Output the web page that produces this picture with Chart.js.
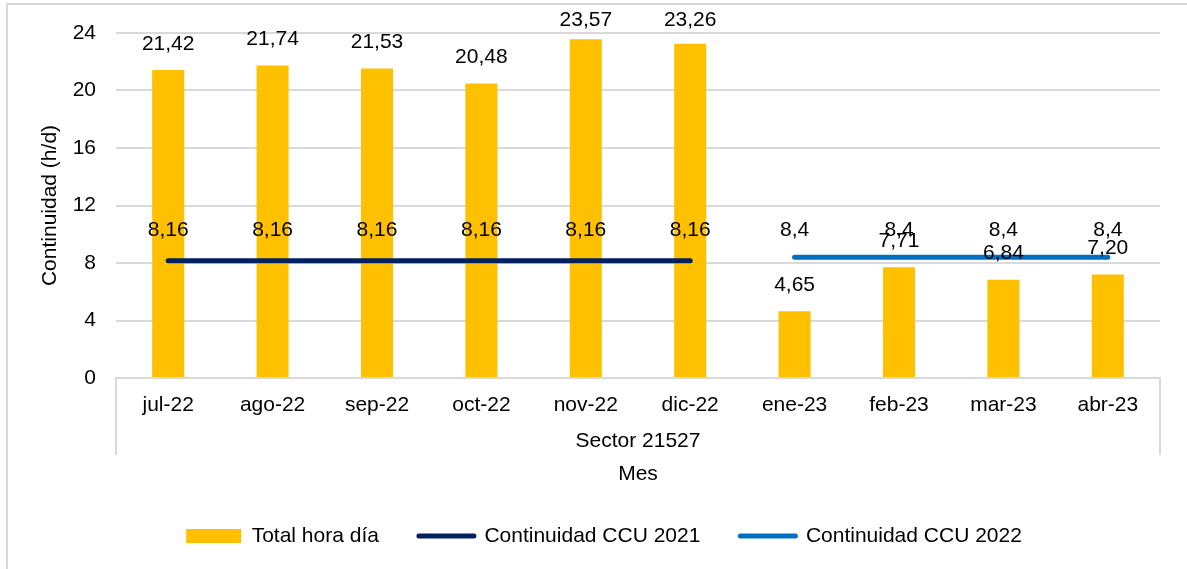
<!DOCTYPE html>
<html><head><meta charset="utf-8">
<script src="https://cdn.jsdelivr.net/npm/chart.js@4/dist/chart.umd.min.js"></script>
<style>
html,body{margin:0;padding:0;background:#fff;}
#wrap{position:relative;width:1187px;height:569px;overflow:hidden;}
#frame{position:absolute;left:6px;top:3px;width:1200px;height:600px;border-top:2px solid #d9d9d9;border-left:2px solid #d9d9d9;pointer-events:none;}
</style></head><body>
<div id="wrap"><canvas id="c"></canvas><div id="frame"></div></div>
<script>
const categories = ['jul-22','ago-22','sep-22','oct-22','nov-22','dic-22','ene-23','feb-23','mar-23','abr-23'];
const totalHoraDia = [21.42, 21.74, 21.53, 20.48, 23.57, 23.26, 4.65, 7.71, 6.84, 7.20];
const ccu2021 = [8.16, 8.16, 8.16, 8.16, 8.16, 8.16, null, null, null, null];
const ccu2022 = [null, null, null, null, null, null, 8.4, 8.4, 8.4, 8.4];
const yTicks = [0, 4, 8, 12, 16, 20, 24];
const groupLabel = 'Sector 21527';
const xTitle = 'Mes';
const yTitle = 'Continuidad (h/d)';

const FONT = '"Liberation Sans", Arial, sans-serif';
const FS = 21;

const labelPlugin = {
  id: 'vlabels',
  afterDatasetsDraw(chart) {
    const ctx = chart.ctx;
    ctx.save();
    ctx.font = FS + 'px ' + FONT;
    ctx.fillStyle = '#000';
    ctx.textAlign = 'center';
    ctx.textBaseline = 'middle';
    chart.data.datasets.forEach((ds, i) => {
      const meta = chart.getDatasetMeta(i);
      meta.data.forEach((el, j) => {
        const v = ds.data[j];
        if (v == null) return;
        const txt = ds.type === 'bar' ? v.toFixed(2).replace('.', ',') : String(v).replace('.', ',');
        ctx.fillText(txt, el.x, Math.max(el.y - ds.labelOffset, 20));
      });
    });
    ctx.restore();
  }
};

const sepPlugin = {
  id: 'seps',
  afterLayout(chart) {
    if (chart.legend) chart.legend.left += 48;
  },
  afterDraw(chart) {
    const ctx = chart.ctx, xs = chart.scales.x, b = chart.chartArea.bottom;
    ctx.save();
    ctx.strokeStyle = '#d9d9d9';
    ctx.lineWidth = 2;
    [xs.left, xs.right].forEach(x => {
      ctx.beginPath(); ctx.moveTo(x, b); ctx.lineTo(x, b + 77); ctx.stroke();
    });
    ctx.restore();
  }
};

new Chart(document.getElementById('c'), {
  data: {
    labels: categories,
    datasets: [
      { type: 'bar', label: 'Total hora día', data: totalHoraDia, backgroundColor: '#FFC000',
        borderWidth: 0, barPercentage: 0.307, categoryPercentage: 1, order: 1, labelOffset: 26 },
      { type: 'line', label: 'Continuidad CCU 2021', data: ccu2021, borderColor: '#002060', backgroundColor: '#002060',
        borderWidth: 5, borderCapStyle: 'round', pointRadius: 0, spanGaps: false, order: 0, labelOffset: 30 },
      { type: 'line', label: 'Continuidad CCU 2022', data: ccu2022, borderColor: '#0070C0', backgroundColor: '#0070C0',
        borderWidth: 5, borderCapStyle: 'round', pointRadius: 0, spanGaps: false, order: 0, labelOffset: 27 }
    ]
  },
  options: {
    responsive: true,
    maintainAspectRatio: false,
    animation: false,
    layout: { padding: { left: 0, right: 27, top: 33, bottom: 12.5 } },
    plugins: {
      tooltip: { enabled: false },
      legend: {
        position: 'bottom',
        labels: {
          font: { family: FONT, size: FS },
          color: '#000',
          usePointStyle: true,
          pointStyleWidth: 55,
          boxHeight: 14,
          padding: 40,
          sort: (a, b) => a.datasetIndex - b.datasetIndex,
          generateLabels(chart) {
            const items = Chart.defaults.plugins.legend.labels.generateLabels(chart);
            items.forEach(it => {
              const ds = chart.data.datasets[it.datasetIndex];
              if (ds.type === 'bar') { it.pointStyle = 'rect'; it.lineWidth = 0; it.fillStyle = ds.backgroundColor; }
              else { it.pointStyle = 'line'; it.lineWidth = 5; it.strokeStyle = ds.borderColor; it.lineCap = 'round'; }
            });
            return items;
          }
        }
      }
    },
    scales: {
      x: {
        grid: { display: false, drawTicks: false },
        border: { display: true, color: '#d9d9d9', width: 2 },
        ticks: { font: { family: FONT, size: FS }, color: '#000', padding: 15, maxRotation: 0 },
        title: { display: true, text: [groupLabel, xTitle], font: { family: FONT, size: FS, lineHeight: 33 / FS },
                 color: '#000', padding: { top: 0, bottom: -5 } },
        afterFit(axis) { axis.height = 107.5; }
      },
      y: {
        min: 0, max: 24,
        afterBuildTicks(axis) { axis.ticks = yTicks.map(v => ({ value: v })); },
        grid: { color: '#d9d9d9', lineWidth: 2, drawTicks: false },
        border: { display: false },
        ticks: { font: { family: FONT, size: FS }, color: '#000', padding: 20 },
        title: { display: true, text: yTitle, font: { family: FONT, size: FS }, color: '#000',
                 padding: { top: 38, bottom: 0 } },
        afterFit(axis) { axis.width = 116; }
      }
    }
  },
  plugins: [labelPlugin, sepPlugin]
});
</script>
</body></html>
